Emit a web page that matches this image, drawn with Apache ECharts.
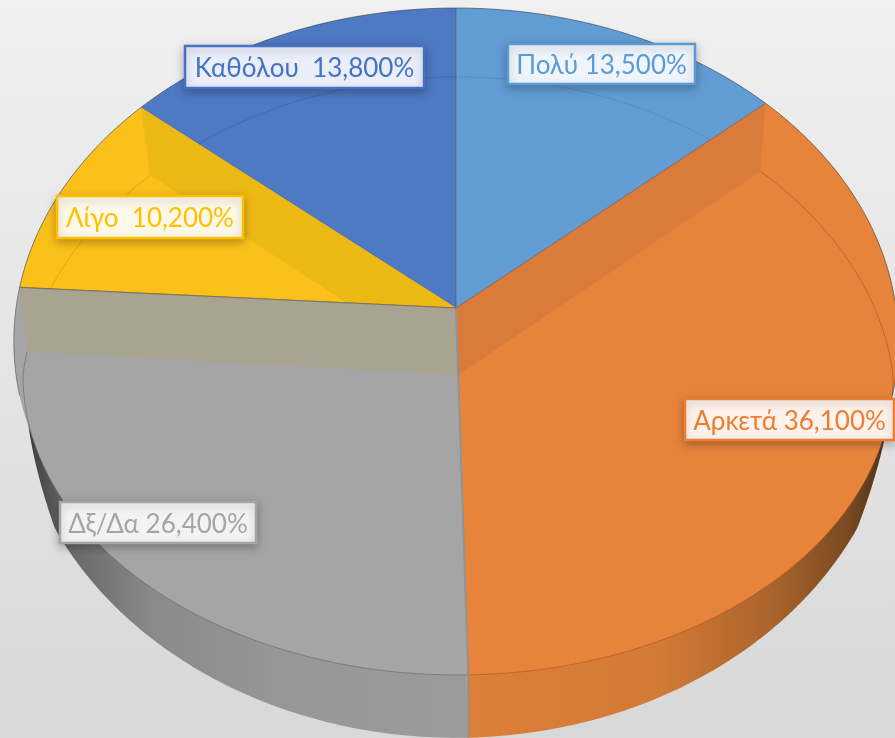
<!DOCTYPE html>
<html>
<head>
<meta charset="utf-8">
<style>
  html, body { margin: 0; padding: 0; background: #e5e5e5; overflow: hidden; }
  #chart { width: 895px; height: 738px; }
</style>
<script src="https://cdn.jsdelivr.net/npm/echarts@6/dist/echarts.min.js"></script>
</head>
<body>
<div id="chart"></div>
<script>
// clockwise from 12 o'clock, as in the picture
const categories = ["Πολύ", "Αρκετά", "Δξ/Δα", "Λίγο ", "Καθόλου "];
const shares = [13.5, 36.1, 26.4, 10.2, 13.8];

const FONT = "Lato, 'Noto Sans', sans-serif";
const fills = ["#629cd4", "#e8833b", "#a5a5a5", "#fbc01a", "#4e79c3"];
const inks = ["#5b9bd5", "#ed7d31", "#a5a5a5", "#ffc000", "#4472c4"];
const label_fills = ["#eff5fb", "#fdf3ec", "#f3f3f3", "#fef8e9", "#e9eef8"];
const arc_inks = [
    "rgba(40,70,120,0.18)",
    "rgba(170,85,25,0.6)",
    "rgba(90,90,90,0.5)",
    "rgba(150,110,10,0.3)",
    "rgba(30,50,110,0.22)",
];
const band_fills = { 1: "#d97b3a", 2: "#a9a392", 3: "#ecb814" }; // darker inner wall per slice
const paint_order = [4, 0, 3, 1, 2]; // far slices first, near ones cover them
const label_boxes = [
    [508, 44, 187, 40],
    [685, 399, 209, 41],
    [60, 502, 196, 41],
    [57, 196, 186, 42],
    [185, 46, 239, 42],
];

const DEG = Math.PI / 180;
const turn = shares.reduce((a, b) => a + b, 0);
let run = 0;
const edges = [0].concat(shares.map((s) => (run += s) / turn * 360));

// the three tilted circles of the 3D pie
function rim(th) {
    const u = Math.sin(th * DEG), v = Math.cos(th * DEG), d = 1 + 0.1 * v;
    return [456 + 440 * u / d, 308 - 330 * v / d];
}
function floor(th) {
    const u = Math.sin(th * DEG), v = Math.cos(th * DEG);
    const x = 458 + 435 * u / (1 + 0.12 * Math.max(v, 0));
    const y = v > 0 ? 375 - 298 * Math.pow(v, 0.92) : 375 - 300 * v;
    return [x, y];
}
function base(th) {
    const u = Math.sin(th * DEG), v = Math.cos(th * DEG), d = 1 + 0.1 * v;
    return [456 + 440 * u / d, 340 - 358 * v / d];
}
// lower silhouette: leaves the floor circle gradually at both ends
const WALL_FROM = 98;
const WALL_TO = 262;
function wall_edge(th) {
    const t = Math.min(1, Math.min(th - WALL_FROM, WALL_TO - th) / 22);
    const f = floor(th), g = base(th);
    return [f[0] + (g[0] - f[0]) * t, f[1] + (g[1] - f[1]) * t];
}
function arc(fn, a, b) {
    const pts = [];
    const n = Math.max(2, Math.ceil(Math.abs(b - a)));
    for (let i = 0; i <= n; i++) pts.push(fn(a + (b - a) * i / n));
    return pts;
}
const RIM_APEX = [456, 308];
const FLOOR_APEX = [458, 375];

function poly(points, fill) {
    return { type: "polygon", shape: { points }, style: { fill, stroke: null }, silent: true };
}
function line(points, stroke, width) {
    return {
        type: "polyline",
        shape: { points },
        style: { fill: null, stroke, lineWidth: width },
        silent: true,
    };
}
function grad(x, x2, stops) {
    return {
        type: "linear", x, y: 0, x2, y2: 0, global: true,
        colorStops: stops.map((s) => ({ offset: s[0], color: s[1] })),
    };
}
const wall_fills = {
    1: grad(467, 890, [[0, "#dc7f39"], [0.45, "#d37a36"], [0.72, "#ab642c"], [0.9, "#7a4a22"], [1, "#45301c"]]),
    2: grad(20, 467, [[0, "#333333"], [0.1, "#666666"], [0.3, "#8a8a8a"], [0.6, "#979797"], [1, "#9b9b9b"]]),
};

function render_slice(params, api) {
    const i = api.value(0);
    const a = edges[i], b = edges[i + 1];
    const near = Math.cos((a + b) / 2 * DEG) < 0;
    const kids = [];

    // outer wall below the disc
    const wa = Math.max(a, WALL_FROM), wb = Math.min(b, WALL_TO);
    if (near && wb > wa) {
        kids.push(poly(arc(wall_edge, wa, wb).concat([FLOOR_APEX]), wall_fills[i]));
    }
    kids.push(poly([RIM_APEX].concat(arc(rim, a, b)), fills[i]));
    if (near) kids.push(poly([FLOOR_APEX].concat(arc(floor, a, b)), fills[i]));

    // inner wall seen on the straight edge facing the viewer
    if (i === 1) kids.push(poly([RIM_APEX, rim(a), floor(a), FLOOR_APEX], band_fills[i]));
    if (i === 2 || i === 3) kids.push(poly([RIM_APEX, rim(b), floor(b), FLOOR_APEX], band_fills[i]));

    // thin lines: inner circle, upper rim, radial edge
    kids.push(line(arc(floor, a, b), arc_inks[i], 1));
    if (i === 1) kids.push(line(arc(rim, a, 105), "rgba(70,50,30,0.6)", 1));
    else if (i === 2) kids.push(line(arc(rim, 255, b), "rgba(60,60,60,0.5)", 1));
    else kids.push(line(arc(rim, a, b), "rgba(50,60,80,0.6)", 1));
    kids.push(line([RIM_APEX, rim(a)], "rgba(80,80,80,0.55)", 1));
    if (i === 2) {
        kids.push(line([RIM_APEX, rim(a), base(a)], "#939393", 2));
        kids.push(line([RIM_APEX, rim(b)], "rgba(90,90,90,0.6)", 1.2));
    }
    return { type: "group", children: kids };
}

function label_text(i) {
    return categories[i] + " " + shares[i].toFixed(3).replace(".", ",") + "%";
}

function render_label(params, api) {
    const i = api.value(0);
    const box = label_boxes[i];
    return {
        type: "group",
        children: [
            {
                type: "rect",
                shape: { x: box[0], y: box[1], width: box[2], height: box[3] },
                style: {
                    fill: label_fills[i],
                    stroke: inks[i],
                    lineWidth: 2.5,
                    shadowBlur: 9,
                    shadowOffsetY: 3,
                    shadowColor: "rgba(0,0,0,0.25)",
                },
            },
            {
                type: "text",
                style: {
                    x: box[0] + box[2] / 2,
                    y: box[1] + box[3] / 2 + 2,
                    text: label_text(i),
                    fill: inks[i],
                    font: "26px " + FONT,
                    align: "center",
                    verticalAlign: "middle",
                },
            },
        ],
    };
}

const chart = echarts.init(document.getElementById("chart"), null, { renderer: "canvas" });
chart.setOption({
    animation: false,
    backgroundColor: {
        type: "linear", x: 0, y: 0, x2: 0, y2: 1,
        colorStops: [
            { offset: 0, color: "#f0f0f0" },
            { offset: 1, color: "#d8d8d8" },
        ],
    },
    series: [
        {
            type: "custom",
            coordinateSystem: "none",
            silent: true,
            renderItem: render_slice,
            data: paint_order.map((i) => [i]),
            z: 2,
        },
        {
            type: "custom",
            coordinateSystem: "none",
            silent: true,
            renderItem: render_label,
            data: categories.map((c, i) => [i]),
            z: 3,
        },
    ],
});
</script>
</body>
</html>
